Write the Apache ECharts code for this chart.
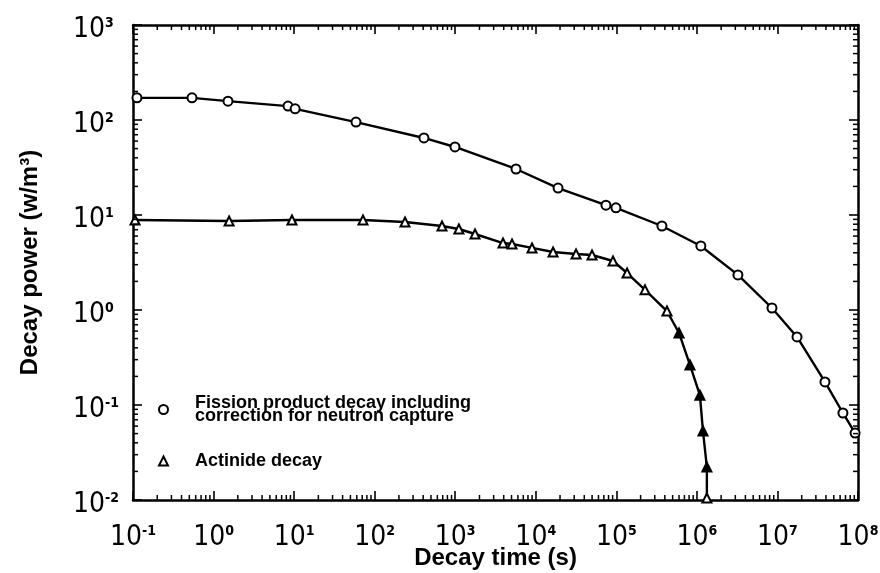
<!DOCTYPE html>
<html>
<head>
<meta charset="utf-8">
<script src="https://cdn.jsdelivr.net/npm/echarts@6/dist/echarts.min.js"></script>
<style>html,body{margin:0;padding:0;background:#fff}#c{width:880px;height:573px}</style>
</head>
<body>
<div id="c"></div>
<script>
// ---- data ----
const fissionTime  = [0.112, 0.54, 1.51, 8.4, 10.3, 58.6, 409, 993, 5680, 18900, 74300, 98900, 3.68e5, 1.12e6, 3.23e6, 8.55e6, 1.75e7, 3.89e7, 6.5e7, 9.2e7];
const fissionPower = [171, 171, 158, 140, 131, 95, 64.7, 52, 30.5, 19.2, 12.7, 11.9, 7.66, 4.72, 2.34, 1.05, 0.52, 0.175, 0.0824, 0.0507];
const actinideTime  = [0.106, 1.56, 9.4, 71.6, 238, 685, 1110, 1760, 3920, 5070, 8980, 16400, 31600, 49900, 90900, 1.36e5, 2.27e5, 4.25e5, 6.0e5, 8.2e5, 1.09e6, 1.19e6, 1.33e6, 1.33e6];
const actinidePower = [8.86, 8.66, 8.86, 8.86, 8.44, 7.66, 7.12, 6.31, 5.07, 4.95, 4.5, 4.08, 3.88, 3.79, 3.28, 2.45, 1.63, 0.975, 0.573, 0.264, 0.127, 0.0532, 0.0222, 0.0105];
const xExponents = ['-1', '0', '1', '2', '3', '4', '5', '6', '7', '8'];
const yExponents = ['-2', '-1', '0', '1', '2', '3'];
const seriesNames = ['Fission product decay including\ncorrection for neutron capture', 'Actinide decay'];
const xTitle = 'Decay time (s)';
const yTitle = 'Decay power (w/m³)';

// ---- build ----
const X_MIN = 0.1, X_MAX = 1e8, Y_MIN = 0.01, Y_MAX = 1000;
const FILLED_FROM = 18, FILLED_TO = 22;
const hollow = { color: '#fff', borderColor: '#000', borderWidth: 2 };

const fissionData = fissionTime.map((t, i) => [t, fissionPower[i]]);
const actinideData = actinideTime.map((t, i) => {
  const filled = i >= FILLED_FROM && i <= FILLED_TO;
  return { value: [t, actinidePower[i]], itemStyle: filled ? { color: '#000', borderColor: '#000' } : undefined };
});

// minor tick positions (2..9 x 10^k) for log axes
const minorTicks = [];
for (let k = -1; k < 8; k++) for (let m = 2; m <= 9; m++) minorTicks.push([m * Math.pow(10, k), 1, 0]);
for (let k = -2; k < 3; k++) for (let m = 2; m <= 9; m++) minorTicks.push([1, m * Math.pow(10, k), 1]);

const LABEL_FONT = "'Liberation Sans Narrow', 'DejaVu Sans Condensed', 'Liberation Sans', sans-serif";
function expOf(v, arr) {
  const e = String(Math.round(Math.log10(v)));
  const i = arr.indexOf(e);
  return i >= 0 ? arr[i] : e;
}
const labelRich = {
  b: { fontSize: 28, fontFamily: LABEL_FONT, color: '#000' },
  s: { fontSize: 14, fontFamily: LABEL_FONT, color: '#000', padding: [0, 0, 14, 0], fontWeight: 'bold' }
};
const tickStyle = { show: true, inside: true, length: 9, lineStyle: { color: '#000', width: 1.6 } };
const lineStyleAxis = { show: true, lineStyle: { color: '#000', width: 2.5 } };
const titleStyle = { fontSize: 24, fontWeight: 'bold', fontFamily: 'Liberation Sans', color: '#000' };

const option = {
  animation: false,
  backgroundColor: '#fff',
  grid: { left: 133, right: 22, top: 25, bottom: 73, containLabel: false, outerBoundsMode: 'none' },
  xAxis: [
    { type: 'log', logBase: 10, min: X_MIN, max: X_MAX, splitNumber: 9, position: 'bottom',
      axisLine: lineStyleAxis, axisTick: tickStyle, splitLine: { show: false },
      axisLabel: { margin: 24, formatter: v => '{b|10}{s|' + expOf(v, xExponents) + '}', rich: labelRich },
      name: xTitle, nameLocation: 'middle', nameGap: 46, nameMoveOverlap: false, nameTextStyle: titleStyle },
    { type: 'log', logBase: 10, min: X_MIN, max: X_MAX, splitNumber: 9, position: 'top',
      axisLine: lineStyleAxis, axisTick: tickStyle, axisLabel: { show: false }, splitLine: { show: false } }
  ],
  yAxis: [
    { type: 'log', logBase: 10, min: Y_MIN, max: Y_MAX, splitNumber: 5, position: 'left',
      axisLine: lineStyleAxis, axisTick: tickStyle, splitLine: { show: false },
      axisLabel: { margin: 60, align: 'left', padding: [10, 0, 0, 0], formatter: v => '{b|10}{s|' + expOf(v, yExponents) + '}', rich: labelRich },
      name: yTitle, nameLocation: 'middle', nameGap: 91, nameRotate: 90, nameMoveOverlap: false, nameTextStyle: titleStyle },
    { type: 'log', logBase: 10, min: Y_MIN, max: Y_MAX, splitNumber: 5, position: 'right',
      axisLine: lineStyleAxis, axisTick: tickStyle, axisLabel: { show: false }, splitLine: { show: false } }
  ],
  legend: {
    orient: 'vertical', left: 153, top: 389, itemGap: 27, itemWidth: 9, itemHeight: 9,
    selectedMode: false,
    textStyle: { fontSize: 18, fontWeight: 'bold', fontFamily: 'Liberation Sans', color: '#000', lineHeight: 13, padding: [0, 0, 0, 22] },
    data: [
      { name: seriesNames[0], icon: 'circle', itemStyle: hollow },
      { name: seriesNames[1], icon: 'triangle', itemStyle: hollow }
    ]
  },
  series: [
    { name: seriesNames[0], type: 'line', data: fissionData, symbol: 'circle', symbolSize: 9,
      showAllSymbol: true, lineStyle: { color: '#000', width: 2.4 }, itemStyle: hollow, z: 3 },
    { name: seriesNames[1], type: 'line', data: actinideData, symbol: 'triangle', symbolSize: 9,
      showAllSymbol: true, lineStyle: { color: '#000', width: 2.4 }, itemStyle: hollow, z: 3 },
    { type: 'custom', data: minorTicks, silent: true, clip: false, z: 4,
      renderItem: function (params, api) {
        const kind = api.value(2);
        const L = 5;
        const st = { stroke: '#000', lineWidth: 1.5 };
        if (kind === 0) {
          const v = api.value(0);
          const b = api.coord([v, Y_MIN]), t = api.coord([v, Y_MAX]);
          return { type: 'group', children: [
            { type: 'line', shape: { x1: b[0], y1: b[1], x2: b[0], y2: b[1] - L }, style: st },
            { type: 'line', shape: { x1: t[0], y1: t[1], x2: t[0], y2: t[1] + L }, style: st }
          ]};
        } else {
          const v = api.value(1);
          const l = api.coord([X_MIN, v]), r = api.coord([X_MAX, v]);
          return { type: 'group', children: [
            { type: 'line', shape: { x1: l[0], y1: l[1], x2: l[0] + L, y2: l[1] }, style: st },
            { type: 'line', shape: { x1: r[0], y1: r[1], x2: r[0] - L, y2: r[1] }, style: st }
          ]};
        }
      }
    }
  ]
};
const chart = echarts.init(document.getElementById('c'), null, { renderer: 'canvas' });
chart.setOption(option);
</script>
</body>
</html>
